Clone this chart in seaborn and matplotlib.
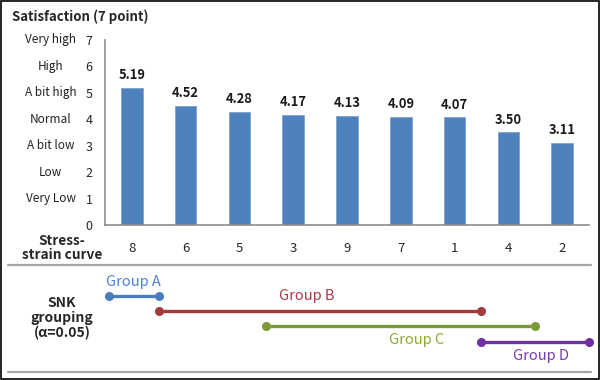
import numpy as np
import pandas as pd
import matplotlib
matplotlib.use("Agg")
import matplotlib.pyplot as plt
import seaborn as sns
from matplotlib.patches import Rectangle
from matplotlib.lines import Line2D

# data
curves = ["8", "6", "5", "3", "9", "7", "1", "4", "2"]
scores = [5.19, 4.52, 4.28, 4.17, 4.13, 4.09, 4.07, 3.50, 3.11]
level_names = ["Very Low", "Low", "A bit low", "Normal", "A bit high", "High", "Very high"]

# SNK groups: first and last curve covered
group_names = ["Group A", "Group B", "Group C", "Group D"]
group_first = ["8", "6", "3", "4"]
group_last = ["8", "1", "4", "2"]

sns.set_style("white")
plt.rcParams['font.family'] = ['Noto Sans CJK KR', 'DejaVu Sans']

bar_color = "#4F81BD"
line_colors = ["#4A7EBB", "#A33B3B", "#7A9A3A", "#7030A0"]
text_colors = ["#4F81E0", "#A83A4A", "#8BAA30", "#7A3BAA"]
axis_gray = "#8C8C8C"

fig = plt.figure(figsize=(6, 3.8), dpi=100)
ax = fig.add_axes([105 / 600, 1 - 225 / 380, 484 / 600, 185 / 380])

df = pd.DataFrame({"curve": curves, "score": scores})
sns.barplot(data=df, x="curve", y="score", order=curves, color=bar_color,
            width=0.4, saturation=1, edgecolor="#7FA3D0", linewidth=0.6, ax=ax)

ax.set_xlim(-0.5, len(curves) - 0.5)
ax.set_ylim(0, 7)
ax.set_yticks(range(0, 8))
ax.set_xlabel("")
ax.set_ylabel("")
for s in ["top", "right"]:
    ax.spines[s].set_visible(False)
for s in ["left", "bottom"]:
    ax.spines[s].set_color(axis_gray)
    ax.spines[s].set_linewidth(1.2)

ax.tick_params(axis="y", which="major", direction="out", length=3, color=axis_gray,
               labelsize=9, pad=6, width=1)
ax.tick_params(axis="x", which="major", length=0, labelsize=9.5, pad=12)
ax.set_xticks(np.arange(-0.5, len(curves)), minor=True)
ax.tick_params(axis="x", which="minor", direction="out", length=4, color=axis_gray, width=1)

# descriptive level names next to the numeric ticks
for i, name in enumerate(level_names, start=1):
    ax.text(-0.112, i, name, transform=ax.get_yaxis_transform(), ha="center",
            va="center", fontsize=8.5, color="#222222")

# value labels
for i, v in enumerate(scores):
    ax.text(i, v + 0.22, f"{v:.2f}", ha="center", va="bottom", fontsize=9.3,
            fontweight="bold", color="#1a1a1a")

fig.text(12 / 600, 1 - 17 / 380, "Satisfaction (7 point)", ha="left", va="center",
         fontsize=9.5, fontweight="bold")
fig.text(62 / 600, 1 - 248 / 380, "Stress-\nstrain curve", ha="center", va="center",
         fontsize=9.8, fontweight="bold", linespacing=1.0)
fig.text(62 / 600, 1 - 318 / 380, "SNK\ngrouping\n(α=0.05)", ha="center", va="center",
         fontsize=10, fontweight="bold", linespacing=1.1)

# lower panel for the SNK groups, sharing the category scale
gx = fig.add_axes([105 / 600, 1 - 372 / 380, 484 / 600, 107 / 380])
gx.set_xlim(ax.get_xlim())
gx.set_ylim(372, 265)
gx.axis("off")

line_y = [296, 311, 326, 342]
label_y = [282, 296, 340, 356]
label_dx = [0.0, -0.25, 0.3, 0.1]
for k, name in enumerate(group_names):
    x0 = curves.index(group_first[k]) - 0.5
    x1 = curves.index(group_last[k]) + 0.5
    if k == 0:
        x0 += 0.07
    gx.plot([x0, x1], [line_y[k], line_y[k]], color=line_colors[k], lw=2.4,
            marker="o", markersize=5.5, solid_capstyle="butt", clip_on=False)
    gx.text((x0 + x1) / 2 + label_dx[k], label_y[k], name, ha="center", va="center",
            fontsize=10.5, color=text_colors[k])

# separators and frame
for yy in [265, 372]:
    fig.add_artist(Line2D([8 / 600, 591 / 600], [1 - yy / 380, 1 - yy / 380],
                          color="#A6A6A6", lw=1.6))
fig.add_artist(Rectangle((0.0015, 0.002), 0.996, 0.995, transform=fig.transFigure,
                         fill=False, edgecolor="black", lw=1.2))

fig.savefig("out.png", dpi=100)
